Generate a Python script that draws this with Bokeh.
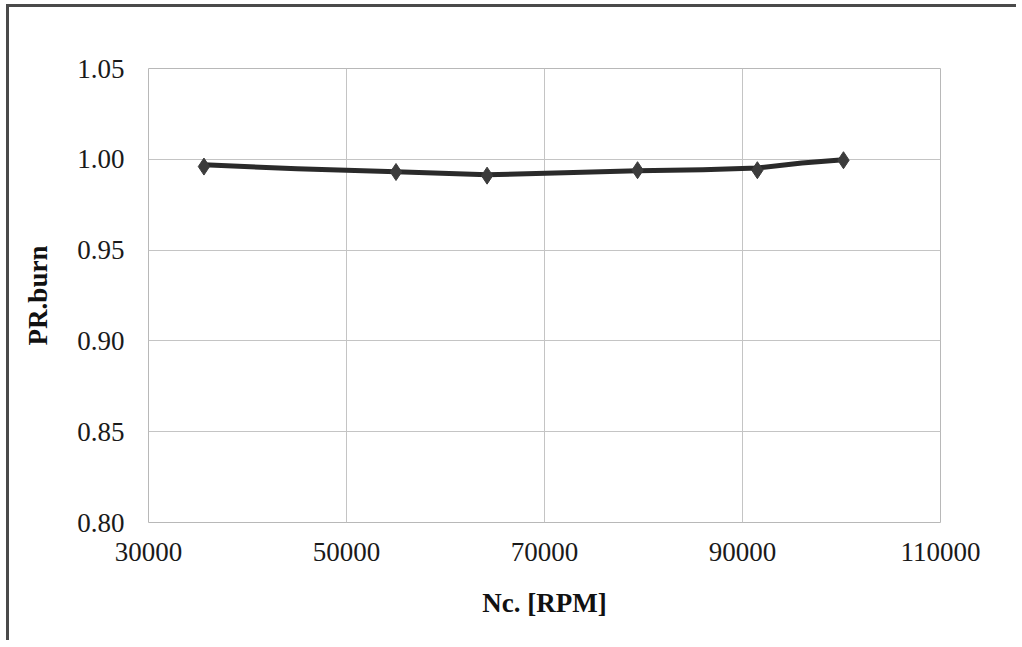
from bokeh.plotting import figure
from bokeh.models import FixedTicker, Range1d, PrintfTickFormatter, BasicTickFormatter
from bokeh.embed import file_html
from bokeh.resources import INLINE

# Data
rpm = [35600, 55000, 64200, 79400, 91500, 100200]
pr_burn = [0.996, 0.993, 0.991, 0.994, 0.994, 0.9995]

# Drawn (smoothed) curve
curve_rpm = [35600, 45000, 55000, 64200, 72000, 79400, 86000, 91500, 96000, 100200]
curve_pr = [0.997, 0.9948, 0.9932, 0.9915, 0.9926, 0.9937, 0.9943, 0.9952, 0.998, 0.9998]

x_ticks = [30000, 50000, 70000, 90000, 110000]
y_ticks = [0.80, 0.85, 0.90, 0.95, 1.00, 1.05]

p = figure(width=1010, height=636, output_backend="svg", toolbar_location=None,
           x_range=Range1d(30000, 110000), y_range=Range1d(0.80, 1.05),
           min_border_left=139, min_border_top=61, min_border_right=79, min_border_bottom=121)
p.styles = {"margin-left": "6px", "margin-top": "4px",
            "border-top": "3px solid #4a4a4a", "border-left": "3px solid #4a4a4a"}

p.background_fill_color = "white"
p.border_fill_color = "white"
p.outline_line_color = "#b8b8b8"
p.outline_line_width = 1

for ax in (p.xaxis[0], p.yaxis[0]):
    ax.axis_line_color = None
    ax.major_tick_line_color = None
    ax.minor_tick_line_color = None
    ax.major_label_text_font = "Liberation Serif"
    ax.major_label_text_font_size = "27px"
    ax.major_label_text_font_style = "normal"
    ax.major_label_text_color = "#1a1a1a"
    ax.axis_label_text_font = "Liberation Serif"
    ax.axis_label_text_font_size = "27px"
    ax.axis_label_text_font_style = "bold"
    ax.axis_label_text_color = "#111111"

p.xaxis.ticker = FixedTicker(ticks=x_ticks)
p.yaxis.ticker = FixedTicker(ticks=y_ticks)
p.xaxis.formatter = BasicTickFormatter(use_scientific=False)
p.yaxis.formatter = PrintfTickFormatter(format="%.2f")
p.xaxis.major_label_standoff = 14
p.yaxis.major_label_standoff = 18
p.xaxis.axis_label = "Nc. [RPM]"
p.yaxis.axis_label = "PR.burn"
p.xaxis.axis_label_standoff = 24
p.yaxis.axis_label_standoff = 21

p.xgrid.grid_line_color = "#c4c4c4"
p.ygrid.grid_line_color = "#c4c4c4"
p.xgrid.grid_line_width = 1
p.ygrid.grid_line_width = 1

p.line(curve_rpm, curve_pr, line_color="#2a2a2a", line_width=5, line_join="round", line_cap="round")
p.scatter(rpm, pr_burn, marker="diamond", size=17, fill_color="#3c3c3c", line_color="#3c3c3c")

open("out.html", "w").write(file_html(p, INLINE))
